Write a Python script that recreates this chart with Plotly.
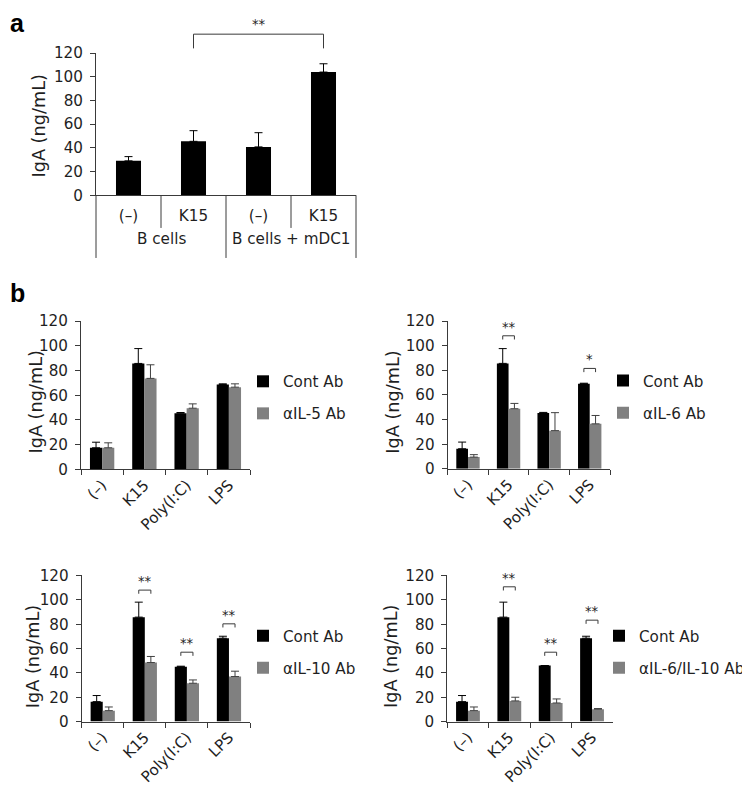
import plotly.graph_objects as go

W, H = 750, 791
S = 0.9766                 # measured vertical scale between figure pixels and the photographed picture
OX, OY = 8.0, 16.6         # measured offset of the figure inside the photographed page
FW, FH = 742, 793          # figure size covering the whole picture
FONT = "DejaVu Sans, Verdana, sans-serif"
LFONT = "Liberation Sans, Arial, sans-serif"
TXT = "#1f1f1f"
AXC = "#3a3a3a"
BLACK = "#000000"
GRAY = "#808080"
FS = 15.2

# ---------------- Panel a data ----------------
a_cats = ["(–)", "K15", "(–)", "K15"]
a_groups = ["B cells", "B cells + mDC1"]
a_vals = [29, 45.5, 40.8, 104]
a_errs = [3.6, 9, 12, 7]
a_sig = [(1, 3, 136, 124, "**")]  # from idx, to idx, bracket top, arm bottom, label

# ---------------- Panel b data ----------------
b_cats = ["(–)", "K15", "Poly(I:C)", "LPS"]
ctrl_name = "Cont Ab"

il5_name = "αIL-5 Ab"
il5_ctrl = [17.5, 85.7, 45.5, 68.7]
il5_ctrl_err = [4.5, 12, 0.5, 0.5]
il5_trt = [17.5, 73.6, 49.5, 66.5]
il5_trt_err = [4, 11, 3.5, 2.7]
il5_sig = []

il6_name = "αIL-6 Ab"
il6_ctrl = [16.3, 85.6, 45.3, 69]
il6_ctrl_err = [5.4, 12, 0.5, 0.5]
il6_trt = [9.5, 48.8, 31, 36.5]
il6_trt_err = [2, 4.3, 14.6, 6.8]
il6_sig = [("K15", 108, "**"), ("LPS", 81.5, "*")]

il10_name = "αIL-10 Ab"
il10_ctrl = [16.4, 85.8, 45, 68.5]
il10_ctrl_err = [5, 12.3, 0.5, 1.6]
il10_trt = [9, 48.5, 31.5, 37]
il10_trt_err = [3, 5, 2.7, 4.4]
il10_sig = [("K15", 108, "**"), ("Poly(I:C)", 57, "**"), ("LPS", 80.3, "**")]

il610_name = "αIL-6/IL-10 Ab"
il610_ctrl = [16.4, 85.8, 46, 68.5]
il610_ctrl_err = [5, 12.3, 0, 1.6]
il610_trt = [9, 17, 15.3, 10.2]
il610_trt_err = [3, 3, 3.3, 0.5]
il610_sig = [("K15", 110.7, "**"), ("Poly(I:C)", 57, "**"), ("LPS", 83.3, "**")]

y_ticks = [0, 20, 40, 60, 80, 100, 120]
YMAX = 120
y_title = "IgA (ng/mL)"
BARGAP = 0.424
ARM = 3.0


def px(t):
    """picture x (px) -> paper fraction"""
    return (t - OX) / FW


def py(t):
    """picture y (px, from top) -> paper fraction"""
    return 1 - (t / S - OY) / FH


fig = go.Figure()

# ---------------- Panel a ----------------
fig.add_trace(go.Bar(
    x=list(range(len(a_vals))), y=a_vals, xaxis="x", yaxis="y",
    marker=dict(color=BLACK, line=dict(width=0)), width=0.385, showlegend=False,
    error_y=dict(type="data", symmetric=False, array=a_errs, arrayminus=[0] * len(a_errs),
                 color=BLACK, thickness=1, width=4),
))

# ---------------- Panel b ----------------
panels = [
    ("x2", "y2", "legend", il5_name, il5_ctrl, il5_ctrl_err, il5_trt, il5_trt_err, il5_sig),
    ("x3", "y3", "legend2", il6_name, il6_ctrl, il6_ctrl_err, il6_trt, il6_trt_err, il6_sig),
    ("x4", "y4", "legend3", il10_name, il10_ctrl, il10_ctrl_err, il10_trt, il10_trt_err, il10_sig),
    ("x5", "y5", "legend4", il610_name, il610_ctrl, il610_ctrl_err, il610_trt, il610_trt_err, il610_sig),
]
for k, (xa, ya, lg, tname, cv, ce, tv, te, sig) in enumerate(panels):
    fig.add_trace(go.Bar(
        x=b_cats, y=cv, name=ctrl_name, xaxis=xa, yaxis=ya, legend=lg,
        legendgroup=f"c{k}", marker=dict(color=BLACK, line=dict(width=0)),
        error_y=dict(type="data", symmetric=False, array=ce, arrayminus=[0] * len(ce),
                     color=BLACK, thickness=1, width=4),
    ))
    fig.add_trace(go.Bar(
        x=b_cats, y=tv, name=tname, xaxis=xa, yaxis=ya, legend=lg,
        legendgroup=f"t{k}", marker=dict(color=GRAY, line=dict(width=0)),
        error_y=dict(type="data", symmetric=False, array=te, arrayminus=[0] * len(te),
                     color="#404040", thickness=1, width=4),
    ))
    half = (1 - BARGAP) / 4
    for cat, ytop, lab in sig:
        i = b_cats.index(cat)
        x0, x1 = i - half, i + half
        for (ax0, ay0, ax1, ay1) in [(x0, ytop - ARM, x0, ytop), (x0, ytop, x1, ytop), (x1, ytop, x1, ytop - ARM)]:
            fig.add_shape(type="line", xref=xa, yref=ya, x0=ax0, y0=ay0, x1=ax1, y1=ay1,
                          line=dict(color=AXC, width=1))
        fig.add_annotation(x=i, y=ytop, xref=xa, yref=ya, text=lab, showarrow=False,
                           yanchor="bottom", font=dict(family=FONT, size=13.2, color=TXT), yshift=-1)

# panel a significance bracket
for i0, i1, ytop, ybot, lab in a_sig:
    for (ax0, ay0, ax1, ay1) in [(i0, ybot, i0, ytop), (i0, ytop, i1, ytop), (i1, ytop, i1, ybot)]:
        fig.add_shape(type="line", xref="x", yref="y domain", x0=ax0, y0=ay0 / YMAX, x1=ax1, y1=ay1 / YMAX,
                      line=dict(color=AXC, width=1))
    fig.add_annotation(x=(i0 + i1) / 2, y=ytop / YMAX, xref="x", yref="y domain", text=lab, showarrow=False,
                       yanchor="bottom", font=dict(family=FONT, size=13.2, color=TXT), yshift=0)

# panel a category table
n = len(a_cats)
for b in range(n + 1):
    long = (b % 2 == 0)
    fig.add_shape(type="line", xref="x domain", yref="paper", x0=b / n, x1=b / n,
                  y0=py(194.3), y1=py(257 if long else 227), line=dict(color=AXC, width=1))
for g, gname in enumerate(a_groups):
    fig.add_annotation(x=2 * g + 0.5, y=py(238), xref="x", yref="paper", text=gname, showarrow=False,
                       font=dict(family=FONT, size=FS, color=TXT), yanchor="middle")

# panel labels
fig.add_annotation(x=px(8), y=py(22), xref="paper", yref="paper", text="<b>a</b>", showarrow=False,
                   xanchor="left", yanchor="middle", font=dict(family=LFONT, size=25, color=BLACK))
fig.add_annotation(x=px(8), y=py(292), xref="paper", yref="paper", text="<b>b</b>", showarrow=False,
                   xanchor="left", yanchor="middle", font=dict(family=LFONT, size=25, color=BLACK))

# y-axis titles (centre x, centre y in picture px)
for cx, cy in [(39, 125.7), (35.8, 400.7), (393, 401.7), (33, 655), (391.7, 655)]:
    fig.add_annotation(x=px(cx), y=py(cy), xref="paper", yref="paper", text=y_title, showarrow=False,
                       textangle=-90, xanchor="center", yanchor="middle",
                       font=dict(family=FONT, size=17.7, color=TXT))

tickfont = dict(family=FONT, size=FS, color=TXT)


def yaxis_cfg(dom, anchor):
    return dict(domain=dom, anchor=anchor, range=[0, YMAX], tickvals=y_ticks, ticks="outside", ticklen=5,
                tickcolor=AXC, showline=True, linecolor=AXC, linewidth=1, showgrid=False, zeroline=False,
                tickfont=tickfont, ticklabelstandoff=4, fixedrange=True)


def xaxis_cat_cfg(dom, anchor):
    return dict(domain=dom, anchor=anchor, type="category", categoryorder="array", categoryarray=b_cats,
                tickson="boundaries", ticks="outside", ticklen=5, tickcolor=AXC, showline=True,
                linecolor=AXC, linewidth=1, showgrid=False, zeroline=False, tickangle=-45,
                tickfont=tickfont, fixedrange=True)


layout = dict(
    width=FW, height=FH, autosize=False, margin=dict(l=0, r=0, t=0, b=0),
    paper_bgcolor="white", plot_bgcolor="white", barmode="group", bargap=BARGAP, bargroupgap=0,
    font=dict(family=FONT, size=FS, color=TXT),
    xaxis=dict(domain=[px(96), px(356)], anchor="y", range=[-0.5, 3.5], tickvals=list(range(n)),
               ticktext=a_cats, ticks="", showline=True, linecolor=AXC, linewidth=1, showgrid=False,
               zeroline=False, tickfont=tickfont, ticklabelstandoff=7, fixedrange=True),
    yaxis=yaxis_cfg([py(194.3), py(52.3)], "x"),
    xaxis2=xaxis_cat_cfg([px(81), px(250)], "y2"),
    yaxis2=yaxis_cfg([py(468.3), py(320)], "x2"),
    xaxis3=xaxis_cat_cfg([px(447.7), px(610)], "y3"),
    yaxis3=yaxis_cfg([py(467.7), py(320)], "x3"),
    xaxis4=xaxis_cat_cfg([px(81.7), px(250)], "y4"),
    yaxis4=yaxis_cfg([py(720.3), py(574.3)], "x4"),
    xaxis5=xaxis_cat_cfg([px(447.3), px(612.7)], "y5"),
    yaxis5=yaxis_cfg([py(720.3), py(574.3)], "x5"),
    showlegend=True,
)


def legend_cfg(swatch_cx, first_cy):
    # plotly puts the swatch centre 20 px and the first row centre 16.5 px inside the legend box
    return dict(x=px(swatch_cx - 20), y=py(first_cy - 16.5 * S), xanchor="left", yanchor="top",
                traceorder="grouped", tracegroupgap=9.3, font=dict(family=FONT, size=FS, color=TXT),
                bgcolor="rgba(0,0,0,0)", borderwidth=0, itemclick=False, itemdoubleclick=False)


layout["legend"] = legend_cfg(263, 380)
layout["legend2"] = legend_cfg(623, 379.3)
layout["legend3"] = legend_cfg(263, 634.3)
layout["legend4"] = legend_cfg(619, 634.3)

fig.update_layout(**layout)
fig.write_html("out.html")
